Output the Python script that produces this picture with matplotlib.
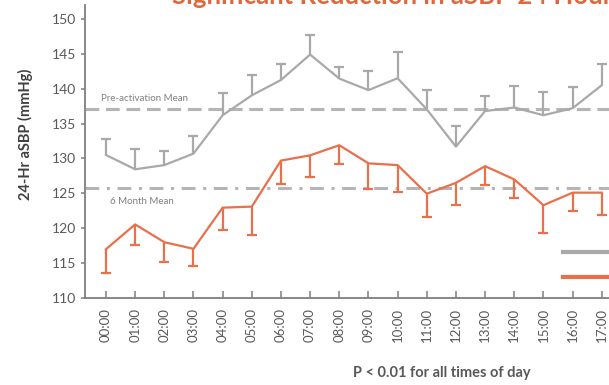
import matplotlib
matplotlib.use("Agg")
import matplotlib.pyplot as plt
from matplotlib.lines import Line2D

plt.rcParams['font.family'] = ['Lato', 'DejaVu Sans']

# hours of the day (x axis) and readings
hours = ["%02d:00" % h for h in range(24)]

pre_mean = [130.5, 128.45, 129.05, 130.7, 136.2, 139.05, 141.25, 144.9, 141.45,
            139.8, 141.5, 137.05, 131.7, 136.8, 137.3, 136.2, 137.2, 140.5]
pre_err = [2.25, 2.95, 2.0, 2.5, 3.2, 2.95, 2.35, 2.8, 1.65,
           2.7, 3.8, 2.75, 2.95, 2.15, 3.1, 3.4, 3.1, 3.1]

m6_mean = [117.0, 120.55, 118.0, 117.05, 122.95, 123.1, 129.7, 130.45, 131.9,
           129.3, 129.05, 124.95, 126.5, 128.9, 127.0, 123.3, 125.1, 125.1]
m6_err = [3.4, 2.95, 2.8, 2.45, 3.25, 4.0, 3.4, 3.05, 2.65,
          3.7, 3.85, 3.3, 3.2, 2.7, 2.7, 3.95, 2.7, 3.2]

pre_overall = 137.05
m6_overall = 125.7

gray = "#a9a9a9"
orange = "#e8704a"
axis_col = "#7f7f7f"
text_col = "#595959"

fig = plt.figure(figsize=(6.09, 3.85), dpi=100)
ax = fig.add_axes([85 / 609, 87 / 385, 712.7 / 609, 293 / 385])

x = list(range(len(pre_mean)))

# reference means
ax.axhline(pre_overall, color="#b5b5b5", lw=2.2, ls=(0, (4.5, 2.2)), zorder=1)
ax.axhline(m6_overall, color="#b5b5b5", lw=2.2, ls=(0, (4.5, 2.5, 1, 2.5)), zorder=1)
ax.text(-0.17, pre_overall + 1.5, "Pre-activation Mean", fontsize=7, color="#808080", va="center")
ax.text(0.14, m6_overall - 1.8, "6 Month Mean", fontsize=7, color="#808080", va="center")

# pre-activation: line + upward error bars
pre_top = [m + e for m, e in zip(pre_mean, pre_err)]
ax.vlines(x, pre_mean, pre_top, color=gray, lw=1.6, zorder=2)
ax.plot(x, pre_top, ls="none", marker="_", ms=7, mew=1.6, color=gray, zorder=2)
ax.plot(x, pre_mean, color=gray, lw=1.6, zorder=3)

# 6 month: line + downward error bars
m6_bot = [m - e for m, e in zip(m6_mean, m6_err)]
ax.vlines(x, m6_bot, m6_mean, color=orange, lw=1.6, zorder=2)
ax.plot(x, m6_bot, ls="none", marker="_", ms=7, mew=1.6, color=orange, zorder=2)
ax.plot(x, m6_mean, color=orange, lw=1.6, zorder=3)

ax.set_xlim(-0.72, 23.72)
ax.set_ylim(110, 152)
ax.set_yticks(range(110, 151, 5))
ax.set_xticks(range(24))
ax.set_xticklabels(hours, rotation=90, fontsize=9.5, color=text_col)
ax.tick_params(axis="y", labelsize=10, labelcolor=text_col, color=axis_col,
               direction="out", length=3, width=1.1)
ax.tick_params(axis="x", color=axis_col, direction="in", length=5, width=1.1, pad=7)

for s in ["top", "right"]:
    ax.spines[s].set_visible(False)
for s in ["left", "bottom"]:
    ax.spines[s].set_color(axis_col)
    ax.spines[s].set_linewidth(1.3)

fig.text(25 / 609, 1 - 134 / 385, "24-Hr aSBP (mmHg)", rotation=90, ha="center", va="center",
         fontsize=10.5, fontweight="bold", color="#404040")

handles = [Line2D([], [], color=gray, lw=3),
           Line2D([], [], color=orange, lw=3)]
fig.legend(handles, ["Pre-Activation", "6 Months"], loc="upper left",
           bbox_to_anchor=(563 / 609, 1 - 246 / 385), frameon=False,
           borderpad=0, borderaxespad=0, handlelength=4, handletextpad=0.6,
           labelspacing=1.05, fontsize=9)

fig.text(442 / 609, 1 - 373 / 385, "P < 0.01 for all times of day", ha="center", va="center",
         fontsize=10.5, fontweight="bold", color=text_col)
fig.text(172 / 609, 1 - 4 / 385, "Significant Reduction in aSBP 24 Hour Profile",
         ha="left", va="baseline", fontsize=18.5, fontweight="bold", color="#e0663d")

fig.savefig("out.png", dpi=100)
